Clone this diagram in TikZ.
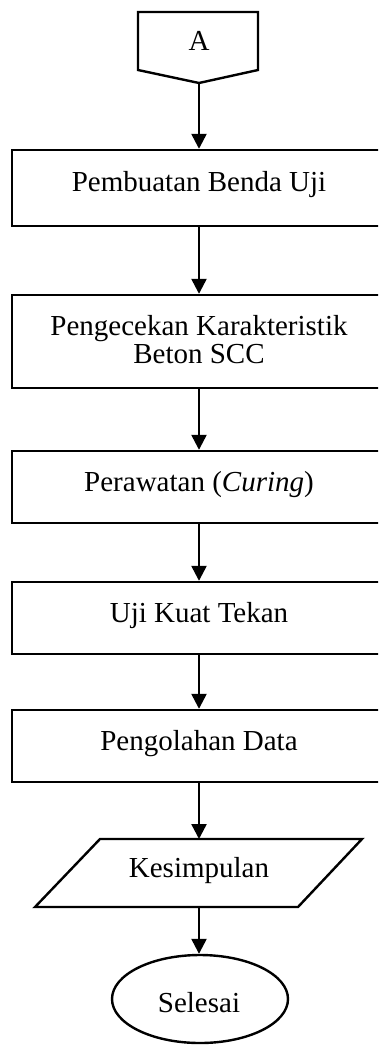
\documentclass[tikz,border=0pt]{standalone}
\usepackage{fontspec}
\setmainfont{Liberation Serif}
\usetikzlibrary{arrows.meta,shapes.geometric}
\begin{document}
\begin{tikzpicture}[x=1pt,y=-1pt,
  lw/.style={line width=2.4pt},
  stepbox/.style={draw,lw,rectangle,inner sep=0pt,minimum width=374pt},
  txt/.style={anchor=base,inner sep=0pt,font=\fontsize{29}{28}\selectfont},
  conn/.style={lw,-{Triangle[width=15pt,length=15pt]}}]
\useasboundingbox (0,0) rectangle (378,1046);
\clip (0,0) rectangle (378,1046);
% off-page connector
\draw[lw,line join=miter] (138,12) -- (258,12) -- (258,70) -- (199,83) -- (138,70) -- cycle;
\coordinate (tip) at (199,83);
\node[txt] (ta) at (199,51) {A};
% boxes
\node[stepbox,minimum height=76pt] (b1) at (199,188) {};
\node[txt] (t1) at (199,191) {Pembuatan Benda Uji};
\node[stepbox,minimum height=93pt] (b2) at (199,341.5) {};
\node[txt] (t2a) at (199,335) {Pengecekan Karakteristik};
\node[txt] (t2b) at (199,363) {Beton SCC};
\node[stepbox,minimum height=72pt] (b3) at (199,487) {};
\node[txt] (t3) at (199,491) {Perawatan (\textit{Curing})};
\node[stepbox,minimum height=72pt] (b4) at (199,618) {};
\node[txt] (t4) at (199,622) {Uji Kuat Tekan};
\node[stepbox,minimum height=72pt] (b5) at (199,746) {};
\node[txt] (t5) at (199,750) {Pengolahan Data};
% parallelogram
\draw[lw,line join=miter] (100,839) -- (362,839) -- (298,907) -- (35,907) -- cycle;
\coordinate (pt) at (199,839);
\coordinate (pb) at (199,907);
\node[txt] (t6) at (199,877) {Kesimpulan};
% ellipse
\node[draw,lw,ellipse,inner sep=0pt,minimum width=176pt,minimum height=88pt] (e) at (200,999) {};
\node[txt] (t7) at (199,1012) {Selesai};
% connectors
\draw[conn] (tip) -- (b1.north -| tip);
\draw[conn] (b1.south -| tip) -- (b2.north -| tip);
\draw[conn] (b2.south -| tip) -- (b3.north -| tip);
\draw[conn] (b3.south -| tip) -- (b4.north -| tip);
\draw[conn] (b4.south -| tip) -- (b5.north -| tip);
\draw[conn] (b5.south -| tip) -- (pt);
\draw[conn] (pb) -- (e.north -| tip);
\end{tikzpicture}
\end{document}
